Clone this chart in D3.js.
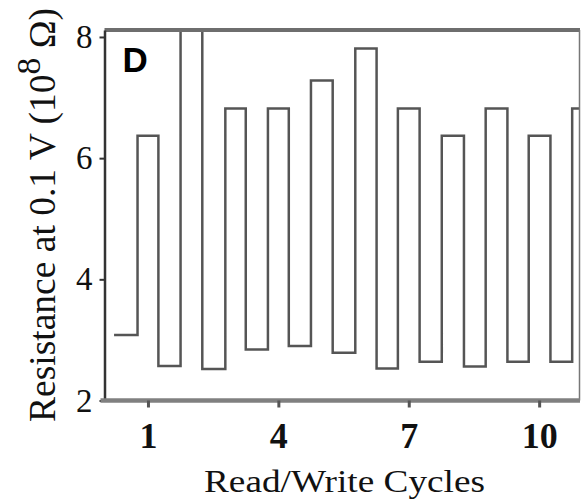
<!DOCTYPE html>
<html>
<head>
<meta charset="utf-8">
<script src="https://cdn.jsdelivr.net/npm/d3@7"></script>
<style>
  body { margin: 0; background: #fff; }
  svg { display: block; }
</style>
</head>
<body>
<div id="wrapper"></div>
<script>
// read values: where each read level starts (in cycles) and its resistance (10^8 ohm)
const cycleStart = [0.22, 0.76, 1.24, 1.75, 2.25, 2.78, 3.25, 3.76, 4.24, 4.75, 5.25,
  5.77, 6.26, 6.75, 7.25, 7.76, 8.27, 8.77, 9.27, 9.76, 10.26, 10.76]
const resistance = [3.08, 6.37, 2.57, 8.6, 2.52, 6.82, 2.84, 6.82, 2.90, 7.28, 2.79,
  7.81, 2.53, 6.82, 2.64, 6.37, 2.56, 6.82, 2.64, 6.37, 2.64, 6.82]
const lastEnd = 11.1
const xTicks = [1, 4, 7, 10]
const yTicks = [2, 4, 6, 8]

const serif = '"Liberation Serif", "Times New Roman", Times, serif'

function drawChart() {
  const dataset = cycleStart.map((c, i) => ({ c: c, r: resistance[i] }))
  dataset.push({ c: lastEnd, r: resistance[resistance.length - 1] })

  const xAccessor = d => d.c
  const yAccessor = d => d.r

  let dimensions = {
    width: 581,
    height: 501,
    margin: { top: 30, right: 1, bottom: 100.5, left: 104.5 },
  }
  dimensions.boundedWidth = dimensions.width - dimensions.margin.left - dimensions.margin.right
  dimensions.boundedHeight = dimensions.height - dimensions.margin.top - dimensions.margin.bottom

  const wrapper = d3.select("#wrapper")
    .append("svg")
    .attr("width", dimensions.width)
    .attr("height", dimensions.height)

  const bounds = wrapper.append("g")
    .attr("transform", `translate(${dimensions.margin.left},${dimensions.margin.top})`)

  // scales
  const xScale = d3.scaleLinear()
    .domain([0, 10.94])
    .range([0, dimensions.boundedWidth])

  const yScale = d3.scaleLinear()
    .domain([2, 8.115])
    .range([dimensions.boundedHeight, 0])

  bounds.append("clipPath")
    .attr("id", "plot-clip")
    .append("rect")
    .attr("width", dimensions.boundedWidth)
    .attr("height", dimensions.boundedHeight)

  // step trace
  const lineGenerator = d3.line()
    .x(d => xScale(xAccessor(d)))
    .y(d => yScale(yAccessor(d)))
    .curve(d3.curveStepAfter)

  bounds.append("path")
    .attr("clip-path", "url(#plot-clip)")
    .attr("d", lineGenerator(dataset))
    .attr("fill", "none")
    .attr("stroke", "#555")
    .attr("stroke-width", 2.5)

  // frame top and right
  bounds.append("line")
    .attr("x1", 0).attr("x2", dimensions.boundedWidth)
    .attr("y1", 0).attr("y2", 0)
    .attr("stroke", "#6e6e6e")
    .attr("stroke-width", 4)
  bounds.append("line")
    .attr("x1", dimensions.boundedWidth - 0.5).attr("x2", dimensions.boundedWidth - 0.5)
    .attr("y1", 0).attr("y2", dimensions.boundedHeight)
    .attr("stroke", "#777")
    .attr("stroke-width", 1.5)

  // y axis
  const yAxis = bounds.append("g")
    .call(d3.axisLeft(yScale).tickValues(yTicks).tickFormat(d3.format("d"))
      .tickSize(5).tickSizeOuter(0).tickPadding(7))
  yAxis.select(".domain").attr("stroke", "#333").attr("stroke-width", 2.5)
  yAxis.selectAll(".tick line").attr("stroke", "#333").attr("stroke-width", 2)
  yAxis.selectAll(".tick text")
    .attr("fill", "#111")
    .style("font-family", serif)
    .style("font-size", "33px")

  // x axis
  const xAxis = bounds.append("g")
    .attr("transform", `translate(0,${dimensions.boundedHeight})`)
    .call(d3.axisBottom(xScale).tickValues(xTicks).tickSize(7).tickSizeOuter(0).tickPadding(15))
  xAxis.select(".domain").attr("stroke", "#808080").attr("stroke-width", 4.5)
    .attr("d", `M-4,0H${dimensions.boundedWidth}`)
  xAxis.selectAll(".tick line").attr("stroke", "#555").attr("stroke-width", 3)
  xAxis.selectAll(".tick text")
    .attr("fill", "#111")
    .style("font-family", serif)
    .style("font-weight", "bold")
    .style("font-size", "36px")

  // axis labels
  wrapper.append("text")
    .attr("x", 204)
    .attr("y", 492)
    .attr("textLength", 281)
    .attr("lengthAdjust", "spacingAndGlyphs")
    .attr("fill", "#111")
    .style("font-family", serif)
    .style("font-size", "32px")
    .text("Read/Write Cycles")

  const yLabel = wrapper.append("text")
    .attr("transform", "translate(55,422) rotate(-90)")
    .attr("fill", "#111")
    .attr("textLength", 414)
    .attr("lengthAdjust", "spacingAndGlyphs")
    .style("font-family", serif)
    .style("font-size", "37px")
  yLabel.append("tspan").text("Resistance at 0.1 V (10")
  yLabel.append("tspan").attr("dy", -15).style("font-size", "33px").text("8")
  yLabel.append("tspan").attr("dy", 15).text(" \u03A9)")

  // panel letter
  bounds.append("text")
    .attr("x", 18)
    .attr("y", 42)
    .attr("fill", "#000")
    .style("font-family", '"Liberation Sans", Arial, sans-serif')
    .style("font-weight", "bold")
    .style("font-size", "35px")
    .text("D")
}

drawChart()
</script>
</body>
</html>
